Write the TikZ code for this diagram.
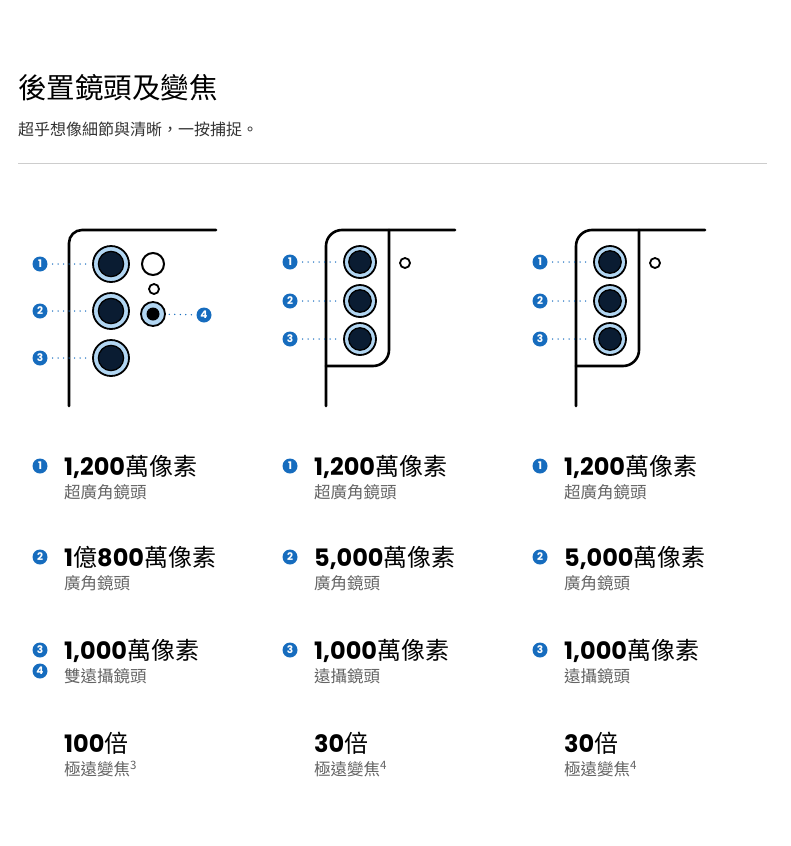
\documentclass[tikz,border=0pt]{standalone}
\usepackage{fontspec}
\setmainfont{Noto Sans CJK TC}
\newfontfamily\numfont{Poppins}
\usetikzlibrary{positioning}
\definecolor{tagblue}{RGB}{22,108,190}
\definecolor{ringblue}{RGB}{178,214,242}
\definecolor{lensnavy}{RGB}{10,28,50}
\definecolor{subgray}{RGB}{100,100,100}
\definecolor{rulegray}{RGB}{205,205,205}
\newcommand\numtxt[1]{{\numfont\bfseries #1}}
\tikzset{
  body/.style  = {line width=2.6pt, line cap=round},
  lens/.style  = {circle, draw, line width=1.8pt, fill=ringblue,
                  inner sep=0pt, minimum size=#1,
                  path picture={\draw[fill=lensnavy, line width=1.3pt]
                    (path picture bounding box.center) circle (0.35*#1);}},
  lensfour/.style = {circle, draw, line width=1.8pt, fill=ringblue,
                  inner sep=0pt, minimum size=24pt,
                  path picture={\fill[black]
                    (path picture bounding box.center) circle (6.5pt);}},
  flash/.style = {circle, draw, line width=2pt, fill=white,
                  inner sep=0pt, minimum size=22pt},
  mic/.style   = {circle, draw, line width=1.8pt, inner sep=0pt,
                  minimum size=10pt},
  tag/.style   = {circle, fill=tagblue, text=white, inner sep=0pt,
                  minimum size=15pt,
                  font=\numfont\bfseries\fontsize{10.5}{10.5}\selectfont},
  dots/.style  = {tagblue, line width=1.5pt, line cap=round,
                  dash pattern=on 0pt off 5.5pt,
                  shorten <=5pt, shorten >=3pt},
  big/.style   = {anchor=base west, inner sep=0pt,
                  font=\fontsize{24}{24}\selectfont},
  sub/.style   = {inner sep=0pt, text=subgray,
                  font=\fontsize{16.5}{16.5}\selectfont}
}
\begin{document}
\begin{tikzpicture}[x=1pt, y=-1pt]
  \useasboundingbox (0,0) rectangle (790,846);
  % Kopfzeile
  \node[anchor=base west, inner sep=0pt, font=\fontsize{28.5}{28.5}\selectfont]
    (title) at (18,98.6) {後置鏡頭及變焦};
  \node[anchor=base west, inner sep=0pt, text=black!80,
        font=\fontsize{16}{16}\selectfont]
    (lead) at (18,135) {超乎想像細節與清晰，一按捕捉。};
  \draw[rulegray, line width=1pt] (18,163) -- (767,163);

  % Telefon links
  \draw[body, rounded corners=13pt] (69,406) -- (69,230) -- (216,230);
  \node[lens=36pt] (a1) at (111,264) {};
  \node[lens=36pt] (a2) at (111,311) {};
  \node[lens=36pt] (a3) at (111,358) {};
  \node[flash] (fl) at (153,264) {};
  \node[mic] (mc) at (154,289) {};
  \node[lensfour] (a4) at (153,314) {};
  \node[tag] (t1) at (40,264) {1};
  \node[tag] (t2) at (40,311) {2};
  \node[tag] (t3) at (40,358) {3};
  \node[tag] (t4) at (204,315) {4};
  \draw[dots] (t1) -- (a1);
  \draw[dots] (t2) -- (a2);
  \draw[dots] (t3) -- (a3);
  \draw[dots] (t4) -- (a4);

  % Spalte links
  \node[tag] (n1) at (40,466) {1};
  \node[big] (m1) at (64,475) {\numtxt{1,200}萬像素};
  \node[sub, below=23.3pt of m1.base west, anchor=base west] (s1) {超廣角鏡頭};
  \node[tag] (n2) at (40,557) {2};
  \node[big] (m2) at (64,566) {\numtxt{1}億\numtxt{800}萬像素};
  \node[sub, below=23.3pt of m2.base west, anchor=base west] (s2) {廣角鏡頭};
  \node[tag] (n3) at (40,650) {3};
  \node[tag] (n4) at (40,671) {4};
  \node[big] (m3) at (64,659) {\numtxt{1,000}萬像素};
  \node[sub, below=23.3pt of m3.base west, anchor=base west] (s3) {雙遠攝鏡頭};
  \node[big] (m4) at (64,752) {\numtxt{100}倍};
  \node[sub, below=23.3pt of m4.base west, anchor=base west] (s4) {極遠變焦\textsuperscript{3}};

  % Telefone Mitte und rechts
  \foreach \k/\dx in {b/0, c/250}{
    \begin{scope}[xshift=\dx pt]
      \draw[body, rounded corners=16pt] (326,406) -- (326,230) -- (455,230);
      \draw[body, rounded corners=16pt] (389,230) -- (389,366) -- (326,366);
      \node[lens=32pt] (\k1) at (360,262) {};
      \node[lens=32pt] (\k2) at (360,301) {};
      \node[lens=32pt] (\k3) at (360,339) {};
      \node[mic] (\k f) at (405,263) {};
      \node[tag] (\k t1) at (290,262) {1};
      \node[tag] (\k t2) at (290,301) {2};
      \node[tag] (\k t3) at (290,339) {3};
      \draw[dots] (\k t1) -- (\k1);
      \draw[dots] (\k t2) -- (\k2);
      \draw[dots] (\k t3) -- (\k3);
      % Texte
      \node[tag] (\k n1) at (290,466) {1};
      \node[big] (\k m1) at (314,475) {\numtxt{1,200}萬像素};
      \node[sub, below=23.3pt of \k m1.base west, anchor=base west] (\k s1) {超廣角鏡頭};
      \node[tag] (\k n2) at (290,557) {2};
      \node[big] (\k m2) at (314,566) {\numtxt{5,000}萬像素};
      \node[sub, below=23.3pt of \k m2.base west, anchor=base west] (\k s2) {廣角鏡頭};
      \node[tag] (\k n3) at (290,650) {3};
      \node[big] (\k m3) at (314,659) {\numtxt{1,000}萬像素};
      \node[sub, below=23.3pt of \k m3.base west, anchor=base west] (\k s3) {遠攝鏡頭};
      \node[big] (\k m4) at (314,752) {\numtxt{30}倍};
      \node[sub, below=23.3pt of \k m4.base west, anchor=base west] (\k s4) {極遠變焦\textsuperscript{4}};
    \end{scope}
  }
\end{tikzpicture}
\end{document}
